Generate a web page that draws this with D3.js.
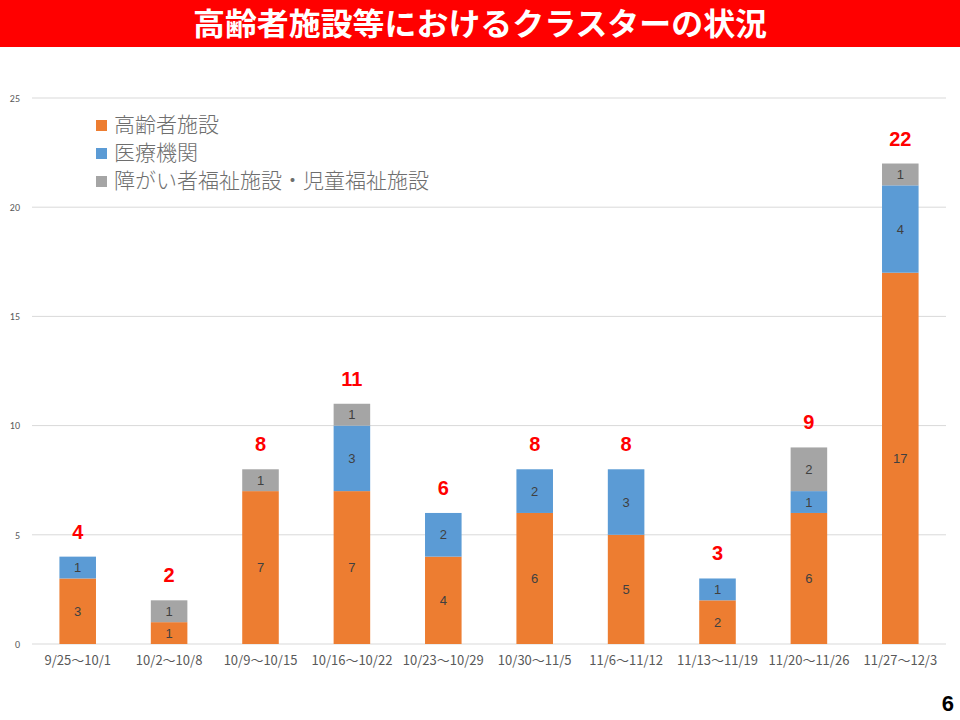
<!DOCTYPE html>
<html><head><meta charset="utf-8">
<script src="https://cdn.jsdelivr.net/npm/d3@7"></script>
<style>body{margin:0;background:#fff}svg{display:block}</style>
</head><body>
<script>
const categories = ["9/25～10/1","10/2～10/8","10/9～10/15","10/16～10/22","10/23～10/29","10/30～11/5","11/6～11/12","11/13～11/19","11/20～11/26","11/27～12/3"];
const elderly = [3,1,7,7,4,6,5,2,6,17];
const medical = [1,0,0,3,2,2,3,1,1,4];
const disability = [0,1,1,1,0,0,0,0,2,1];
const seriesNames = ["高齢者施設","医療機関","障がい者福祉施設・児童福祉施設"];
const yTicks = [0,5,10,15,20,25];
const colors = ["#ED7D31","#5B9BD5","#A5A5A5"];
const title = "高齢者施設等におけるクラスターの状況";

const W=960,H=720;
const svg=d3.select("body").append("svg").attr("width",W).attr("height",H);
const font="'Noto Sans CJK JP','Noto Sans',sans-serif";

// title bar
svg.append("rect").attr("x",0).attr("y",0).attr("width",W).attr("height",47).attr("fill","#FF0000");
svg.append("text").attr("x",480).attr("y",35).attr("text-anchor","middle")
  .attr("font-family",font).attr("font-weight","bold").attr("font-size",31).attr("fill","#fff")
  .attr("textLength",574).attr("lengthAdjust","spacingAndGlyphs").text(title);

const x=d3.scaleBand().domain(categories).range([32,946]).paddingInner(0.6).paddingOuter(0.3);
const y=d3.scaleLinear().domain([0,25]).range([644,98]);

// gridlines
svg.append("g").selectAll("line").data(yTicks).join("line")
  .attr("x1",32).attr("x2",946).attr("y1",d=>y(d)).attr("y2",d=>y(d))
  .attr("stroke","#D9D9D9").attr("stroke-width",1);

// y axis labels
const yAxis=d3.axisLeft(y).tickValues(yTicks).tickSize(0).tickPadding(0);
const ya=svg.append("g").attr("transform","translate(20,0)").call(yAxis);
ya.select(".domain").remove();
ya.selectAll("text").attr("font-family","Calibri,'Liberation Sans',sans-serif").attr("font-size",10).attr("fill","#595959");

// x axis labels
const xAxis=d3.axisBottom(x).tickSize(0).tickPadding(0);
const xa=svg.append("g").attr("transform","translate(0,656)").call(xAxis);
xa.select(".domain").remove();
xa.selectAll("text").attr("font-family",font).attr("font-size",13).attr("fill","#595959");

// stacked data
const rows=categories.map((c,i)=>({cat:c,s0:elderly[i],s1:medical[i],s2:disability[i]}));
const stack=d3.stack().keys(["s0","s1","s2"])(rows);
const g=svg.append("g");
stack.forEach((layer,li)=>{
  g.append("g").selectAll("rect").data(layer).join("rect")
    .attr("x",d=>x(d.data.cat)).attr("width",x.bandwidth())
    .attr("y",d=>y(d[1])).attr("height",d=>y(d[0])-y(d[1]))
    .attr("fill",colors[li]);
  g.append("g").selectAll("text").data(layer.filter(d=>d[1]-d[0]>0)).join("text")
    .attr("x",d=>x(d.data.cat)+x.bandwidth()/2).attr("y",d=>(y(d[0])+y(d[1]))/2+4.5)
    .attr("text-anchor","middle").attr("font-family","'Liberation Sans',sans-serif").attr("font-size",13)
    .attr("fill","#404040").text(d=>d[1]-d[0]);
});

// totals
const totals=categories.map((c,i)=>({cat:c,v:elderly[i]+medical[i]+disability[i]}));
svg.append("g").selectAll("text").data(totals).join("text")
  .attr("x",d=>x(d.cat)+x.bandwidth()/2).attr("y",d=>y(d.v)-18)
  .attr("text-anchor","middle").attr("font-family","'Liberation Sans',sans-serif").attr("font-weight","bold")
  .attr("font-size",20).attr("fill","#FF0000").text(d=>d.v);

// legend
const lg=svg.append("g");
seriesNames.forEach((n,i)=>{
  const ly=125+i*28;
  lg.append("rect").attr("x",96).attr("y",ly-5).attr("width",11).attr("height",11).attr("fill",colors[i]);
  lg.append("text").attr("x",114).attr("y",ly+7).attr("font-family",font).attr("font-size",21).attr("font-weight",300)
    .attr("fill","#6E6E6E").text(n);
});

// page number
svg.append("text").attr("x",954).attr("y",711).attr("text-anchor","end")
  .attr("font-family","'Liberation Sans',sans-serif").attr("font-weight","bold").attr("font-size",22).attr("fill","#000").text("6");
</script>
</body></html>
